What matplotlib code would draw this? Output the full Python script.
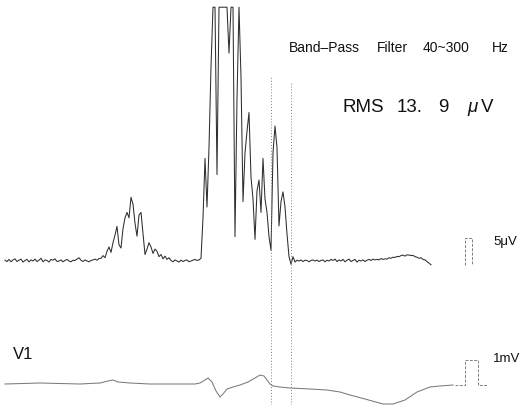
import numpy as np
import matplotlib
matplotlib.use("Agg")
import matplotlib.pyplot as plt

# ---- data -------------------------------------------------------------
# Filtered (40-300 Hz) signal-averaged QRS, µV, one sample every 4 ms
sample_step_ms = 4
filt_pre_uv = [0.15, -0.1, 0.3, -0.15, 0.2, 0.4, -0.1, 0.15, 0.35, -0.2,
               0.1, 0.3, -0.15, 0.2, 0.0, 0.35, -0.1, 0.15, 0.5, -0.15,
               0.2, 0.1, -0.2, 0.3, 0.15, 0.4, -0.1, 0.0, 0.2, -0.15,
               0.1, 0.3, 0.0, -0.15, 0.15, 0.1, 0.35, 0.6, 0.15, -0.1,
               0.2, 0.0, -0.15, 0.1, 0.2, 0.35, 0.15, 0.45]
filt_p_uv = [0.5, 1.0, 0.6, 1.8, 2.6, 1.6, 3.4, 4.8, 6.4, 3.0,
             2.4, 6.0, 8.0, 9.0, 8.0, 11.8, 10.5, 7.0, 4.6, 8.5,
             9.0, 5.2, 1.2, 2.2, 3.4, 2.6, 1.4, 2.2, 1.8, 0.8,
             1.2, 0.4, 0.9, 0.3, 0.6]
filt_pr_uv = [0.1, -0.15, 0.2, 0.0, -0.2, 0.15, -0.1, 0.1, 0.2, -0.15,
              0.0, 0.15, 0.3, 0.1, 0.2]
filt_qrs_uv = [0.5, 8.0, 19.0, 10.0, 21.0, 36.0, 55.0, 55.0, 16.0, 55.0,
               60.0, 60.0, 55.0, 48.0, 38.5, 55.0, 50.0, 4.5, 30.0, 55.0,
               34.0, 11.0, 20.0, 24.0, 27.5, 15.5, 11.5, 4.0, 13.0, 15.0,
               9.0, 19.0, 11.5, 9.0, 4.5, 2.0, 20.0, 25.0, 21.0, 6.5,
               11.0, 12.8, 10.0, 5.0, 0.8]
filt_post_uv = [-0.6, 0.8,
                -0.2, 0.15, 0.0, 0.2, -0.1, 0.15, 0.1, -0.15, 0.1, 0.2,
                0.0, 0.15, -0.1, 0.1, 0.2, -0.15, 0.15, 0.0, 0.3, 0.1,
                0.35, -0.1, 0.2, 0.0, 0.3, -0.15, 0.15, 0.35, -0.1, 0.1,
                0.3, -0.2, 0.15, 0.0, 0.2, -0.1, 0.15, 0.3, 0.1, 0.35,
                0.2, 0.3, 0.2, 0.45, 0.3, 0.4, 0.35, 0.6, 0.5, 0.7,
                0.65, 0.85, 0.8, 1.0, 1.1, 0.9, 1.15, 1.1, 1.0, 1.05,
                0.8, 0.7, 0.5, 0.6, 0.3, 0.2, -0.1, -0.4, -0.7]
pen_limit_uv = 47.0          # recorder saturation

# Unfiltered lead V1, mV
ecg_t_ms = [0, 70, 150, 190, 206, 216, 226, 250, 290, 330, 380, 390, 400,
            406, 414, 422, 430, 436, 444, 456, 470, 486, 500, 510, 518, 524,
            530, 536, 550, 570, 610, 644, 670, 690, 720, 756, 776, 800, 824,
            850, 870, 896]
ecg_mv = [0.0, 0.04, 0.0, 0.04, 0.12, 0.16, 0.08, 0.04, 0.0, 0.0, 0.0, 0.04,
          0.16, 0.24, 0.08, -0.28, -0.52, -0.40, -0.20, -0.12, -0.04, 0.08,
          0.24, 0.36, 0.32, 0.16, 0.0, -0.08, -0.12, -0.16, -0.20, -0.24,
          -0.32, -0.44, -0.60, -0.80, -0.80, -0.64, -0.32, -0.12, -0.08, -0.04]

# Markers: QRS offset and start of the terminal 40 ms window
qrs_end_ms = 572
rms_window_ms = 40

# Calibration pulses
cal_start_ms = 920
cal_uv_width_ms, cal_uv_amp, cal_uv_base = 14, 5.0, -0.74
cal_mv_width_ms, cal_mv_amp, cal_mv_base = 26, 1.0, -0.04

# ---- figure -----------------------------------------------------------
W, H = 521, 405
fig = plt.figure(figsize=(W / 100, H / 100), dpi=100)
fig.patch.set_facecolor("white")

xlim = (-10, 1032)
ax_f = fig.add_axes([0, 0, 1, 1])
ax_f.set_xlim(*xlim)
ax_f.set_ylim(-144 / 5.4, 261 / 5.4)
ax_f.axis("off")

ax_e = fig.add_axes([0, 0, 1, 1])
ax_e.set_xlim(*xlim)
ax_e.set_ylim(-21 / 25, 384 / 25)
ax_e.axis("off")
ax_e.patch.set_alpha(0)

filt_uv = np.array(filt_pre_uv + filt_p_uv + filt_pr_uv + filt_qrs_uv + filt_post_uv)
filt_t = np.arange(len(filt_uv)) * sample_step_ms
ax_f.plot(filt_t, np.minimum(filt_uv, pen_limit_uv), color="#2e2e2e", lw=0.75)

ax_e.plot(ecg_t_ms, ecg_mv, color="#7a7a7a", lw=0.75)

# dotted time markers through both traces
for t, top in ((qrs_end_ms - rms_window_ms, 34.0), (qrs_end_ms, 33.0)):
    ax_f.vlines(t, -144 / 5.4, top, color="#808080", lw=0.7,
                linestyles=(0, (1, 2)))

# calibration pulses
t0 = cal_start_ms
ax_f.plot([t0, t0, t0 + cal_uv_width_ms, t0 + cal_uv_width_ms],
          [cal_uv_base, cal_uv_base + cal_uv_amp, cal_uv_base + cal_uv_amp, cal_uv_base],
          color="#808080", lw=0.7, linestyle=(0, (3, 1.5)))
ax_e.plot([t0 - 20, t0, t0, t0 + cal_mv_width_ms, t0 + cal_mv_width_ms, t0 + cal_mv_width_ms + 18],
          [cal_mv_base, cal_mv_base, cal_mv_base + cal_mv_amp, cal_mv_base + cal_mv_amp,
           cal_mv_base, cal_mv_base],
          color="#808080", lw=0.7, linestyle=(0, (3, 1.5)))

# ---- text ------------------------------------------------------------
def ftext(x, y, s, **kw):
    fig.text(x / W, 1 - y / H, s, va="baseline", ha="left",
             family=["Liberation Sans", "DejaVu Sans"], color="#111111", **kw)

ftext(289, 52, "Band\u2013Pass", fontsize=10)
ftext(377, 52, "Filter", fontsize=10)
ftext(423, 52, "40~300", fontsize=10)
ftext(492, 52, "Hz", fontsize=10)

ftext(342, 112, "RMS", fontsize=13.5)
ftext(397, 112, "13.", fontsize=13.5)
ftext(438, 112, "9", fontsize=13.5)
ftext(467, 112, "\u03bc", fontsize=13.5, style="italic")
ftext(481, 112, "V", fontsize=13.5)

ftext(13, 359, "V1", fontsize=12)
ftext(493, 245, "5\u03bcV", fontsize=9.5)
ftext(493, 362, "1mV", fontsize=9.5)

fig.savefig("out.png", dpi=100)
